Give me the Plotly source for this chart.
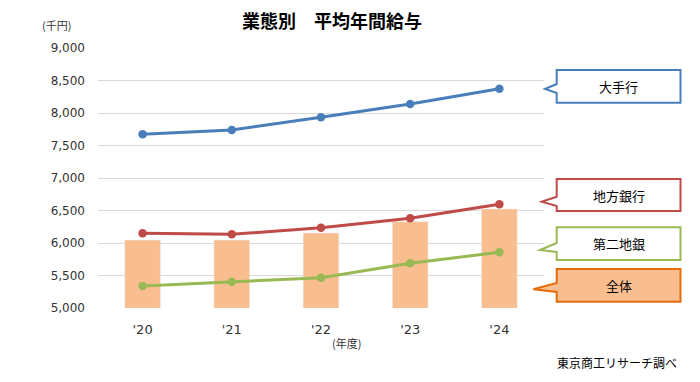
import plotly.graph_objects as go

years = ["'20", "'21", "'22", "'23", "'24"]
megabanks = [7672, 7738, 7934, 8138, 8374]
regional = [6149, 6134, 6236, 6380, 6595]
second_regional = [5338, 5405, 5466, 5688, 5857]
overall = [6046, 6046, 6154, 6328, 6523]
y_ticks = [5000, 5500, 6000, 6500, 7000, 7500, 8000, 8500, 9000]
y_ticktext = [f"{v:,}" for v in y_ticks]

W, H = 700, 382
L, R, T, B = 98, 544, 48, 308

def px(x):
    return (x - L) / (R - L)

def py(y):
    return (B - y) / (B - T)

BLUE = "#4a7ebb"
RED = "#be4b48"
GREEN = "#98b954"
BAR = "#f9be8f"
ORANGE = "#e46c0a"
FONT = "Noto Sans CJK JP"

fig = go.Figure()
fig.add_trace(go.Bar(x=years, y=overall, marker_color=BAR, width=0.4, name="全体"))
for vals, col, nm in [(megabanks, BLUE, "大手行"), (regional, RED, "地方銀行"),
                      (second_regional, GREEN, "第二地銀")]:
    fig.add_trace(go.Scatter(x=years, y=vals, mode="lines+markers", name=nm,
                             line=dict(color=col, width=3),
                             marker=dict(color=col, size=8.5)))

boxes = [
    ("大手行", 70, 102.7, 545, 89, 84, 93, BLUE, "white"),
    ("地方銀行", 179, 211, 541.7, 201.7, 196.7, 206, RED, "white"),
    ("第二地銀", 227.3, 260, 540, 250, 243, 252, GREEN, "white"),
    ("全体", 269, 301.7, 533.3, 289.3, 283, 292, ORANGE, BAR),
]
shapes = []
annotations = []
x0, x1 = 556.7, 680.5
for label, yt, yb, tx, ty, b1, b2, col, fill in boxes:
    pts = [(x0, yt), (x1, yt), (x1, yb), (x0, yb), (x0, b2), (tx, ty), (x0, b1)]
    path = "M " + " L ".join(f"{px(a):.5f},{py(b):.5f}" for a, b in pts) + " Z"
    shapes.append(dict(type="path", xref="paper", yref="paper", path=path,
                       line=dict(color=col, width=2), fillcolor=fill, layer="above"))
    annotations.append(dict(text=label, x=px((x0 + x1) / 2), y=py((yt + yb) / 2),
                            xref="paper", yref="paper", showarrow=False,
                            xanchor="center", yanchor="middle",
                            font=dict(size=13, color="black", family=FONT)))

def label(text, x, y, size, color="#333", weight="normal"):
    return dict(text=text, x=px(x), y=py(y), xref="paper", yref="paper",
                showarrow=False, xanchor="center", yanchor="middle",
                font=dict(size=size, color=color, family=FONT, weight=weight))

annotations += [
    label("業態別　平均年間給与", 332, 20, 18, "black", "bold"),
    label("(千円)", 56, 25, 11),
    label("(年度)", 346, 343, 11),
    label("東京商工リサーチ調べ", 617, 362, 12, "black"),
]

fig.update_layout(
    width=W, height=H, margin=dict(l=L, r=W - R, t=T, b=H - B),
    paper_bgcolor="white", plot_bgcolor="white", showlegend=False,
    bargap=0.6, shapes=shapes, annotations=annotations,
    font=dict(family="DejaVu Sans", size=12, color="#333"),
)
fig.update_xaxes(showgrid=False, showline=False, ticks="", ticklabelstandoff=12,
                 tickfont=dict(size=13, family="DejaVu Sans", color="#333"))
fig.update_yaxes(range=[5000, 9000], tickvals=y_ticks, ticktext=y_ticktext,
                 showgrid=True, gridcolor="#d9d9d9", gridwidth=1, zeroline=False,
                 showline=False, ticks="", ticklabelstandoff=12,
                 tickfont=dict(size=12, family="DejaVu Sans", color="#333"))
fig.write_html("out.html", config={"displayModeBar": False},
               post_script="document.body.style.margin='0';")
